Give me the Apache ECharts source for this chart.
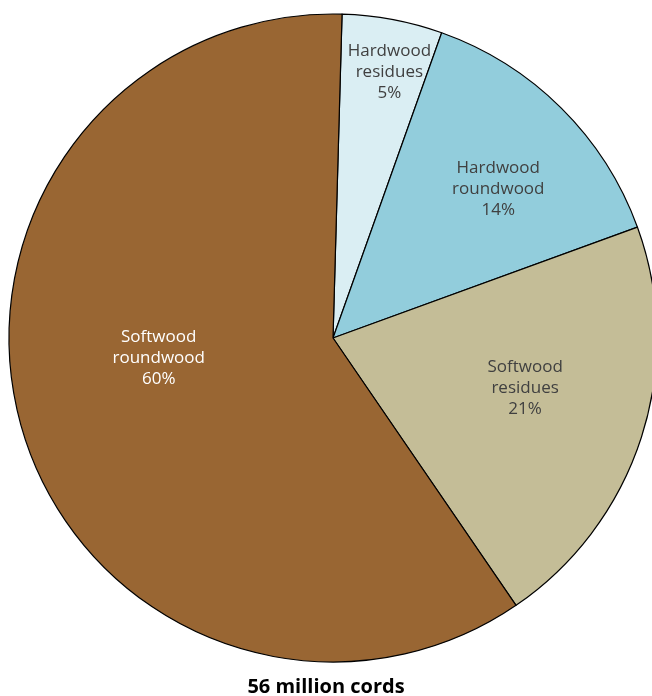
<!DOCTYPE html>
<html>
<head>
<meta charset="utf-8">
<script src="https://cdn.jsdelivr.net/npm/echarts@6/dist/echarts.min.js"></script>
<style>
html, body { margin: 0; padding: 0; background: #fff; }
#main { width: 652px; height: 696px; }
</style>
</head>
<body>
<div id="main"></div>
<script>
var names = ['Hardwood\nresidues', 'Hardwood\nroundwood', 'Softwood\nresidues', 'Softwood\nroundwood'];
var shares = [5, 14, 21, 60];
var colors = ['#DAEEF3', '#92CDDC', '#C4BD97', '#996633'];
var labelColors = ['#404040', '#404040', '#404040', '#ffffff'];
var totalText = '56 million cords';

// nudges for the inside labels, by slice
var nudges = [[26, -104], [49, -32], [35, 0], [-16, -26]];

var myChart = echarts.init(document.getElementById('main'));

var option = {
    animation: false,
    title: {
        text: totalText,
        left: 'center',
        top: 672,
        textStyle: {
            fontFamily: 'Open Sans',
            fontSize: 20,
            fontWeight: 'bold',
            color: '#000'
        }
    },
    series: [{
        type: 'pie',
        center: [333, 338],
        radius: [0, 324],
        startAngle: 88.4,
        clockwise: true,
        silent: true,
        itemStyle: {
            borderColor: '#000',
            borderWidth: 1.2
        },
        label: {
            position: 'inside',
            fontFamily: 'Open Sans',
            fontSize: 17,
            lineHeight: 21,
            formatter: function (p) { return p.name + '\n' + p.value + '%'; }
        },
        labelLine: { show: false },
        labelLayout: function (p) {
            var n = nudges[p.dataIndex];
            return { dx: n[0], dy: n[1] };
        },
        data: names.map(function (n, i) {
            return {
                name: n,
                value: shares[i],
                itemStyle: { color: colors[i] },
                label: { color: labelColors[i] }
            };
        })
    }]
};

myChart.setOption(option);
</script>
</body>
</html>
